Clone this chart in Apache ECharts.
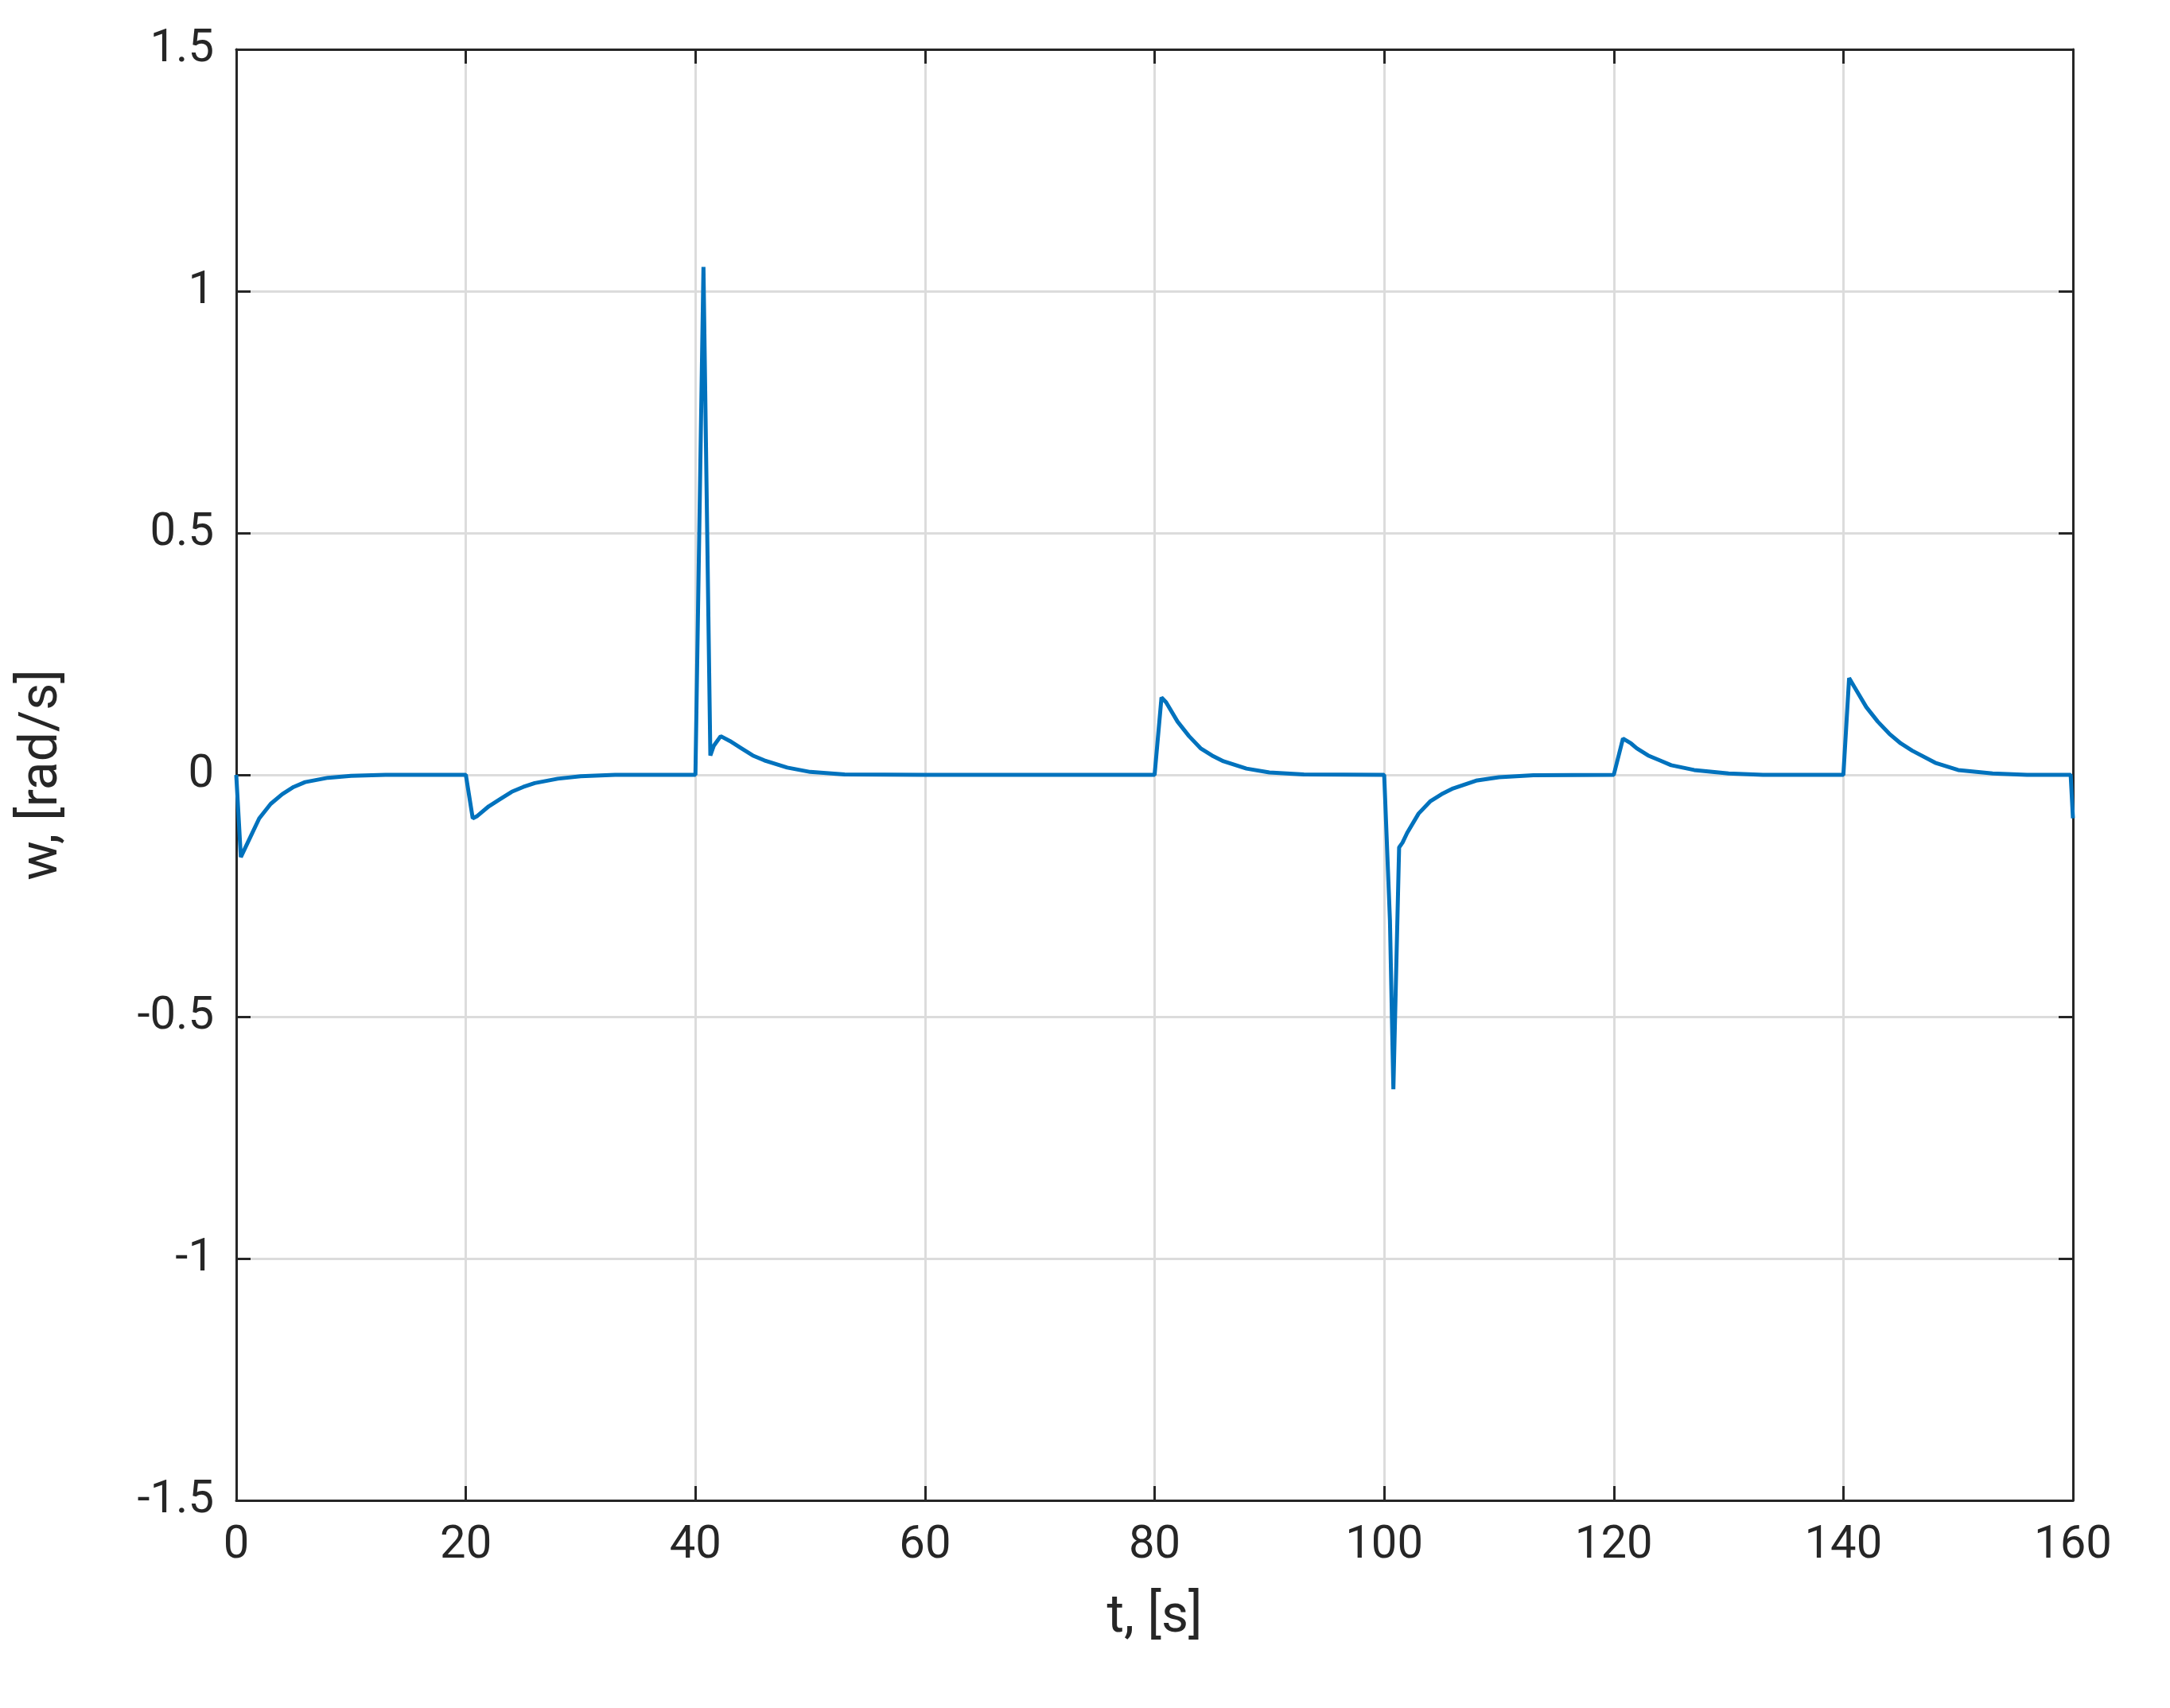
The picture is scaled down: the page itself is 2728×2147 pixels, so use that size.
<!DOCTYPE html>
<html>
<head>
<meta charset="utf-8">
<script src="https://cdn.jsdelivr.net/npm/echarts@6/dist/echarts.min.js"></script>
<style>html,body{margin:0;padding:0;background:#fff}#chart{width:2728px;height:2147px}</style>
</head>
<body>
<div id="chart"></div>
<script>
// time [s] and angular velocity [rad/s]
const tValues = [0, 0.4, 1, 2, 3, 4, 5, 6, 8, 10, 13, 20,
  20.1, 20.6, 21, 22, 23, 24, 25, 26, 28, 30, 33, 40,
  40.1, 40.7, 41.3, 41.6, 42.2, 43, 44, 45, 46, 48, 50, 53, 60, 80,
  80.1, 80.6, 81, 82, 83, 84, 85, 86, 88, 90, 93, 100,
  100.1, 100.5, 100.8, 101.3, 101.6, 102, 103, 104, 105, 106, 108, 110, 113, 120,
  120.1, 120.8, 121.5, 122, 123, 124, 125, 127, 130, 133, 140,
  140.1, 140.5, 141, 142, 143, 144, 145, 146, 148, 150, 153, 156, 159.8, 160];
const wValues = [0, -0.17, -0.14, -0.09, -0.06, -0.04, -0.025, -0.015, -0.006, -0.002, 0, 0,
  0, -0.09, -0.085, -0.065, -0.05, -0.035, -0.025, -0.017, -0.008, -0.003, 0, 0,
  0, 1.05, 0.04, 0.06, 0.08, 0.07, 0.055, 0.04, 0.03, 0.015, 0.006, 0.001, 0, 0,
  0, 0.16, 0.15, 0.11, 0.08, 0.055, 0.04, 0.028, 0.013, 0.005, 0.001, 0,
  0, -0.3, -0.65, -0.15, -0.14, -0.12, -0.08, -0.055, -0.04, -0.028, -0.012, -0.005, -0.001, 0,
  0, 0.075, 0.065, 0.055, 0.04, 0.03, 0.02, 0.01, 0.003, 0, 0,
  0, 0.2, 0.18, 0.14, 0.11, 0.085, 0.065, 0.05, 0.025, 0.01, 0.003, 0, 0, -0.09];
const xTicks = [0, 20, 40, 60, 80, 100, 120, 140, 160];
const yTicks = [-1.5, -1, -0.5, 0, 0.5, 1, 1.5];

const font = 'Roboto, "Liberation Sans", sans-serif';
const axisColor = '#262626';
const chart = echarts.init(document.getElementById('chart'));
const baseX = {
  type: 'value', min: 0, max: 160, interval: 20,
  axisLine: { show: true, onZero: false, lineStyle: { color: axisColor, width: 3 } },
  axisTick: { show: true, inside: true, length: 18, lineStyle: { color: axisColor, width: 3 } },
  splitLine: { show: false }
};
const baseY = {
  type: 'value', min: -1.5, max: 1.5, interval: 0.5,
  axisLine: { show: true, onZero: false, lineStyle: { color: axisColor, width: 3 } },
  axisTick: { show: true, inside: true, length: 18, lineStyle: { color: axisColor, width: 3 } },
  splitLine: { show: false }
};
chart.setOption({
  backgroundColor: '#fff',
  animation: false,
  grid: { left: 297, right: 122, top: 62, bottom: 261 },
  xAxis: [
    Object.assign({}, baseX, {
      position: 'bottom',
      name: 't, [s]', nameLocation: 'middle', nameGap: 115,
      nameTextStyle: { fontFamily: font, fontSize: 66, color: axisColor },
      axisLabel: { fontFamily: font, fontSize: 58, color: axisColor, margin: 28,
        formatter: v => xTicks.includes(v) ? String(v) : '' },
      splitLine: { show: true, lineStyle: { color: '#dcdcdc', width: 3 } }
    }),
    Object.assign({}, baseX, { position: 'top', axisLabel: { show: false } })
  ],
  yAxis: [
    Object.assign({}, baseY, {
      position: 'left',
      name: 'w, [rad/s]', nameLocation: 'middle', nameGap: 210,
      nameTextStyle: { fontFamily: font, fontSize: 66, color: axisColor },
      axisLabel: { fontFamily: font, fontSize: 58, color: axisColor, margin: 28,
        formatter: v => yTicks.includes(v) ? String(v) : '' },
      splitLine: { show: true, lineStyle: { color: '#dcdcdc', width: 3 } }
    }),
    Object.assign({}, baseY, { position: 'right', axisLabel: { show: false } })
  ],
  series: [{
    type: 'line',
    data: tValues.map((t, i) => [t, wValues[i]]),
    smooth: false,
    showSymbol: false,
    lineStyle: { color: '#0072BD', width: 5 }
  }]
});
</script>
</body>
</html>
